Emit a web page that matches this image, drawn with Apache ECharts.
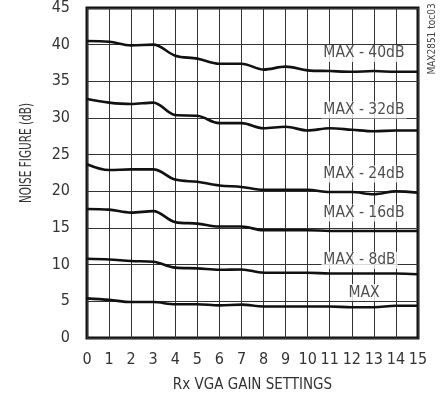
<!DOCTYPE html>
<html><head><meta charset="utf-8">
<script src="https://cdn.jsdelivr.net/npm/echarts@6/dist/echarts.min.js"></script>
<style>html,body{margin:0;padding:0;background:#fff}#c{width:441px;height:402px}</style>
</head><body><div id="c"></div>
<script>
const gainSettings = [0,1,2,3,4,5,6,7,8,9,10,11,12,13,14,15];
const nfMax40 = [40.5,40.4,39.9,40.0,38.5,38.1,37.4,37.4,36.6,37.0,36.5,36.4,36.3,36.4,36.3,36.3];
const nfMax32 = [32.6,32.1,31.9,32.1,30.4,30.3,29.3,29.3,28.6,28.8,28.3,28.6,28.4,28.2,28.3,28.3];
const nfMax24 = [23.7,22.9,23.0,23.0,21.6,21.3,20.8,20.6,20.2,20.2,20.2,19.9,19.9,19.6,20.0,19.8];
const nfMax16 = [17.6,17.5,17.1,17.3,15.8,15.6,15.2,15.2,14.7,14.7,14.7,14.6,14.6,14.6,14.6,14.6];
const nfMax8  = [10.8,10.7,10.5,10.4,9.6,9.5,9.3,9.35,8.9,8.9,8.9,8.8,8.8,8.8,8.8,8.7];
const nfMax   = [5.4,5.2,4.9,4.9,4.6,4.6,4.45,4.55,4.3,4.3,4.3,4.3,4.2,4.2,4.4,4.4];
const seriesNames = ['MAX - 40dB','MAX - 32dB','MAX - 24dB','MAX - 16dB','MAX - 8dB','MAX'];
const labelX = [12.55,12.55,12.55,12.55,12.35,12.55];
const labelY = [38.8,31.1,22.35,17.05,10.6,6.2];
const yTicks = [0,5,10,15,20,25,30,35,40,45];

const FONT = "'DejaVu Sans Condensed','Liberation Sans Narrow',sans-serif";
const allData = [nfMax40,nfMax32,nfMax24,nfMax16,nfMax8,nfMax];
const chart = echarts.init(document.getElementById('c'));
const series = allData.map((arr,i)=>({
  type:'line', name:seriesNames[i], smooth:0.35, symbol:'none',
  lineStyle:{color:'#111',width:2.6},
  data: arr.map((v,j)=>[gainSettings[j],v]), z:3
}));
series.push({
  type:'scatter', symbolSize:1, itemStyle:{color:'transparent'}, z:5, silent:true,
  data: seriesNames.map((n,i)=>[labelX[i],labelY[i],n]),
  label:{show:true,position:'inside',formatter:p=>p.value[2],color:'#222',
    fontFamily:FONT,fontSize:15.5,backgroundColor:'#fff',padding:[1,2,0,2]}
});
chart.setOption({
  animation:false,
  backgroundColor:'#fff',
  grid:{left:87,right:23,top:8,bottom:64,show:true,borderColor:'#111',borderWidth:3,backgroundColor:'#fff'},
  xAxis:{type:'value',min:0,max:15,interval:1,
    axisLine:{show:false},axisTick:{show:false},
    splitLine:{show:true,lineStyle:{color:'#333',width:1}},
    axisLabel:{color:'#333',fontFamily:FONT,fontSize:16,margin:14},
    name:'Rx VGA GAIN SETTINGS',nameLocation:'middle',nameGap:40,
    nameTextStyle:{color:'#333',fontFamily:FONT,fontSize:15}},
  yAxis:{type:'value',min:0,max:45,interval:5,
    axisLine:{show:false},axisTick:{show:false},
    splitLine:{show:true,lineStyle:{color:'#333',width:1}},
    axisLabel:{color:'#333',fontFamily:FONT,fontSize:16,margin:17,
      formatter:v=>yTicks.includes(v)?String(v):''}},
  graphic:[
    {type:'text',x:26.5,y:153,rotation:Math.PI/2,scaleX:0.73,
      style:{text:'NOISE FIGURE (dB)',fill:'#333',font:'16px '+FONT,align:'center',verticalAlign:'middle'}},
    {type:'text',x:432,y:39,rotation:Math.PI/2,
      style:{text:'MAX2851 toc03',fill:'#444',font:'10px '+FONT,align:'center',verticalAlign:'middle'}}],
  series:series
});
</script></body></html>
